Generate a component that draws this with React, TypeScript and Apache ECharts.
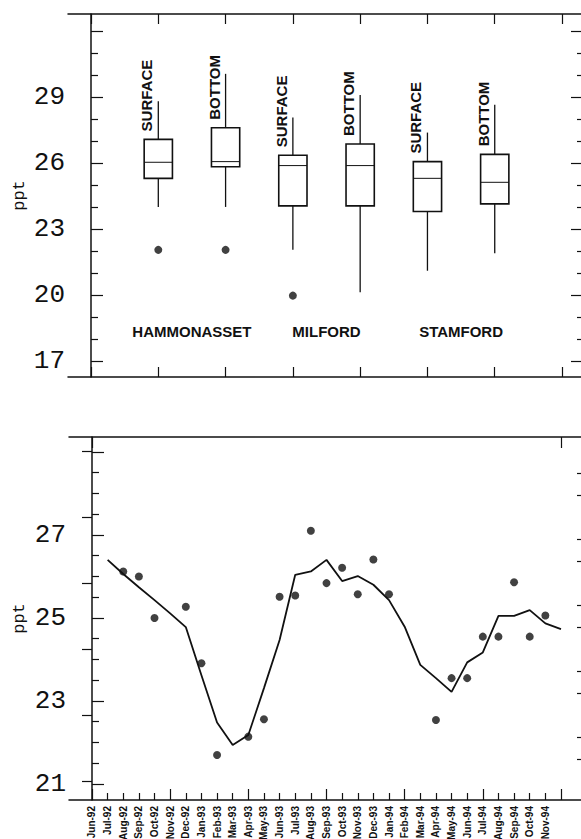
import React, { useEffect, useRef } from "react";
import * as echarts from "echarts";

// ---------- Top panel: box plots ----------
const boxNames = ["SURFACE", "BOTTOM", "SURFACE", "BOTTOM", "SURFACE", "BOTTOM"];
const boxPositions = [1, 2, 3, 4, 5, 6];
// [lower whisker, Q1, median, Q3, upper whisker]
const boxStats = [
  [24.0, 25.3, 26.03, 27.07, 28.8],
  [24.0, 25.83, 26.06, 27.6, 30.05],
  [22.05, 24.05, 25.88, 26.35, 28.07],
  [20.12, 24.05, 25.88, 26.86, 29.09],
  [21.1, 23.79, 25.3, 26.06, 27.38],
  [21.9, 24.14, 25.12, 26.39, 28.64],
];
const outlierPositions = [1, 2, 3];
const outlierValues = [22.05, 22.05, 19.97];
const sites = ["HAMMONASSET", "MILFORD", "STAMFORD"];
const sitePositions = [1.5, 3.5, 5.5];
const siteLabelLevel = 18.32;

const topMajorTicks = [17, 20, 23, 26, 29, 32];
const topMinorTicks = [18, 19, 21, 22, 24, 25, 27, 28, 30, 31];
const topTickLabels = [17, 20, 23, 26, 29];
const topXTicks = [0, 1, 2, 3, 4, 5, 6, 7];

// ---------- Bottom panel: monthly series ----------
const months = [
  "Jun-92", "Jul-92", "Aug-92", "Sep-92", "Oct-92", "Nov-92", "Dec-92",
  "Jan-93", "Feb-93", "Mar-93", "Apr-93", "May-93", "Jun-93", "Jul-93",
  "Aug-93", "Sep-93", "Oct-93", "Nov-93", "Dec-93", "Jan-94", "Feb-94",
  "Mar-94", "Apr-94", "May-94", "Jun-94", "Jul-94", "Aug-94", "Sep-94",
  "Oct-94", "Nov-94",
];
const observed: (number | null)[] = [
  null, null, 26.12, 26.0, 25.0, null, 25.27, 23.91, 21.7, null, 22.14, 22.56,
  25.51, 25.54, 27.1, 25.84, 26.21, 25.57, 26.41, 25.57, null, null, 22.54,
  23.55, 23.55, 24.55, 24.55, 25.86, 24.55, 25.06,
];
// trend line, month index 0..30 (index 30 = Dec-94, unlabeled)
const trend: (number | null)[] = [
  null, 26.4, 26.06, 25.74, 25.43, 25.11, 24.78, 23.62, 22.48, 21.94, 22.18,
  23.31, 24.47, 26.04, 26.12, 26.4, 25.89, 26.01, 25.8, 25.43, 24.79, 23.87,
  23.55, 23.22, 23.93, 24.17, 25.05, 25.05, 25.19, 24.87, 24.73,
];

const botMajorTicks = [21, 23, 25, 27, 29];
const botMinorTicks = [21.5, 22, 22.5, 23.5, 24, 24.5, 25.5, 26, 26.5, 27.5, 28, 28.5];
const botTickLabels = [21, 23, 25, 27];
const botRightMajorTicks = [17, 20, 23, 26, 29, 32];
const botRightMinorTicks = [18, 19, 21, 22, 24, 25, 27, 28, 30, 31];
const monthMajorTicks = [0, 5, 10, 15, 20, 25, 30];
const monthMinorTicks = Array.from({ length: 31 }, (_, i) => i).filter((i) => i % 5 !== 0);
const monthTopTicks = [0, 30];
const monthLabelIdx = months.map((_, i) => i);

const INK = "#111";
const monoFont = "Liberation Mono";
const sansFont = "Liberation Sans";

function tickAxis(opts: any) {
  const { gridIndex, position, min, max, ticks, len, line, labels, name, width } = opts;
  const ax: any = {
    type: "value",
    gridIndex,
    position,
    min,
    max,
    splitLine: { show: false },
    axisLine: { show: !!line, lineStyle: { color: INK, width: 1.5 } },
    axisTick: {
      show: true,
      inside: true,
      length: len,
      customValues: ticks,
      lineStyle: { color: INK, width: width || 1.2 },
    },
    axisLabel: { show: false },
  };
  if (labels) ax.axisLabel = labels;
  if (name) Object.assign(ax, name);
  return ax;
}

export default function App() {
  const ref = useRef<HTMLDivElement>(null);

  useEffect(() => {
    document.body.style.margin = "0";
    if (!ref.current) return;
    const chart = echarts.init(ref.current, null, { renderer: "svg" });

    const yLabel = (values: number[]) => ({
      show: true,
      customValues: values,
      margin: 3,
      fontFamily: monoFont,
      fontSize: 26,
      color: INK,
    });
    const pptName = (gap: number) => ({
      name: "ppt",
      nameLocation: "middle",
      nameRotate: 90,
      nameGap: gap,
      nameMoveOverlap: false,
      nameTextStyle: { fontFamily: monoFont, fontSize: 17, color: INK },
    });

    const TOP_MIN = 16.27, TOP_MAX = 32.77;
    const BOT_MIN = 20.614, BOT_MAX = 29.36;
    const BOT_R_MIN = 16.14, BOT_R_MAX = 32.64;
    const TX_MIN = -0.342, TX_MAX = 7.282;
    const BX_MIN = -1.471, BX_MAX = 31.28;

    const option: any = {
      animation: false,
      backgroundColor: "#fff",
      grid: [
        { left: 68, right: 0, top: 14, height: 363, containLabel: false, outerBoundsMode: "none" },
        { left: 69, right: 0, top: 437, height: 363, containLabel: false, outerBoundsMode: "none" },
      ],
      xAxis: [
        tickAxis({ gridIndex: 0, position: "bottom", min: TX_MIN, max: TX_MAX, ticks: topXTicks, len: 10, line: true }),
        tickAxis({ gridIndex: 0, position: "top", min: TX_MIN, max: TX_MAX, ticks: topXTicks, len: 10, line: true }),
        tickAxis({
          gridIndex: 1, position: "bottom", min: BX_MIN, max: BX_MAX, ticks: monthMajorTicks, len: 11, line: true,
          labels: {
            show: true,
            customValues: monthLabelIdx,
            formatter: (v: number) => months[Math.round(v)] ?? "",
            rotate: 90,
            margin: 6,
            fontFamily: sansFont,
            fontWeight: "bold",
            fontSize: 10,
            color: INK,
          },
        }),
        tickAxis({ gridIndex: 1, position: "bottom", min: BX_MIN, max: BX_MAX, ticks: monthMinorTicks, len: 7, line: false }),
        tickAxis({ gridIndex: 1, position: "top", min: BX_MIN, max: BX_MAX, ticks: monthTopTicks, len: 11, line: true }),
      ],
      yAxis: [
        tickAxis({ gridIndex: 0, position: "left", min: TOP_MIN, max: TOP_MAX, ticks: topMajorTicks, len: 12, line: true, labels: yLabel(topTickLabels), name: pptName(40) }),
        tickAxis({ gridIndex: 0, position: "left", min: TOP_MIN, max: TOP_MAX, ticks: topMinorTicks, len: 7, line: false }),
        tickAxis({ gridIndex: 0, position: "right", min: TOP_MIN, max: TOP_MAX, ticks: topMajorTicks, len: 10, line: false }),
        tickAxis({ gridIndex: 0, position: "right", min: TOP_MIN, max: TOP_MAX, ticks: topMinorTicks, len: 4, line: false }),
        tickAxis({ gridIndex: 1, position: "left", min: BOT_MIN, max: BOT_MAX, ticks: botMajorTicks, len: 12, line: true, labels: yLabel(botTickLabels), name: pptName(41) }),
        tickAxis({ gridIndex: 1, position: "left", min: BOT_MIN, max: BOT_MAX, ticks: botMinorTicks, len: 7, line: false }),
        tickAxis({ gridIndex: 1, position: "right", min: BOT_R_MIN, max: BOT_R_MAX, ticks: botRightMajorTicks, len: 10, line: false }),
        tickAxis({ gridIndex: 1, position: "right", min: BOT_R_MIN, max: BOT_R_MAX, ticks: botRightMinorTicks, len: 4, line: false }),
      ],
      series: [
        {
          type: "custom",
          name: "boxes",
          xAxisIndex: 0,
          yAxisIndex: 0,
          encode: { x: 0, y: [1, 2, 3, 4, 5] },
          data: boxPositions.map((p, i) => [p, ...boxStats[i]]),
          renderItem: (params: any, api: any) => {
            const x = api.value(0);
            const lo = api.coord([x, api.value(1)]);
            const q1 = api.coord([x, api.value(2)]);
            const med = api.coord([x, api.value(3)]);
            const q3 = api.coord([x, api.value(4)]);
            const hi = api.coord([x, api.value(5)]);
            const cx = q1[0];
            const hw = api.size([0.42, 0])[0] / 2;
            const ls = { stroke: INK, lineWidth: 1.3 };
            return {
              type: "group",
              children: [
                { type: "line", shape: { x1: cx, y1: hi[1], x2: cx, y2: q3[1] }, style: ls },
                { type: "line", shape: { x1: cx, y1: q1[1], x2: cx, y2: lo[1] }, style: ls },
                {
                  type: "rect",
                  shape: { x: cx - hw, y: q3[1], width: hw * 2, height: q1[1] - q3[1] },
                  style: { fill: "#fff", stroke: INK, lineWidth: 1.6 },
                },
                { type: "line", shape: { x1: cx - hw, y1: med[1], x2: cx + hw, y2: med[1] }, style: { stroke: INK, lineWidth: 1 } },
                {
                  type: "text",
                  x: cx - 4,
                  y: q3[1] - 8,
                  rotation: Math.PI / 2,
                  style: {
                    text: boxNames[params.dataIndex],
                    fill: INK,
                    fontFamily: sansFont,
                    fontWeight: "bold",
                    fontSize: 15,
                    align: "left",
                    verticalAlign: "bottom",
                  },
                },
              ],
            };
          },
        },
        {
          type: "scatter",
          name: "outliers",
          xAxisIndex: 0,
          yAxisIndex: 0,
          symbolSize: 8,
          itemStyle: { color: INK },
          data: outlierPositions.map((p, i) => [p, outlierValues[i]]),
        },
        {
          type: "custom",
          name: "sites",
          xAxisIndex: 0,
          yAxisIndex: 0,
          data: sitePositions.map((p) => [p, siteLabelLevel]),
          renderItem: (params: any, api: any) => {
            const pt = api.coord([api.value(0), api.value(1)]);
            return {
              type: "text",
              x: pt[0],
              y: pt[1],
              style: {
                text: sites[params.dataIndex],
                fill: INK,
                fontFamily: sansFont,
                fontWeight: "bold",
                fontSize: 15,
                align: "center",
                verticalAlign: "middle",
              },
            };
          },
        },
        {
          type: "line",
          name: "trend",
          xAxisIndex: 2,
          yAxisIndex: 4,
          showSymbol: false,
          symbol: "none",
          connectNulls: false,
          lineStyle: { color: INK, width: 1.8 },
          data: trend.map((v, i) => [i, v]),
        },
        {
          type: "scatter",
          name: "observed",
          xAxisIndex: 2,
          yAxisIndex: 4,
          symbolSize: 8,
          itemStyle: { color: INK },
          data: observed.map((v, i) => [i, v]).filter((d) => d[1] !== null),
        },
      ],
    };

    chart.setOption(option);
    return () => chart.dispose();
  }, []);

  return <div ref={ref} style={{ width: 581, height: 839 }} />;
}
